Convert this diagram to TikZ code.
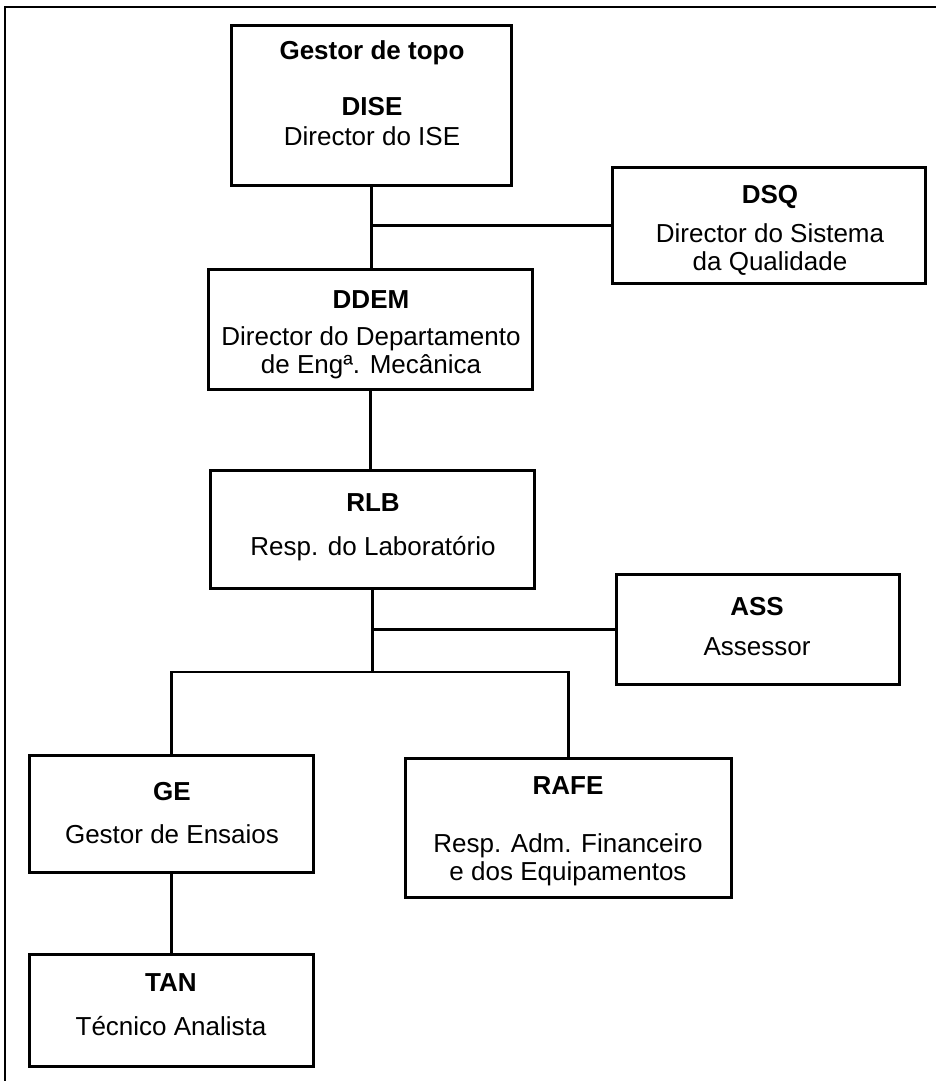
\documentclass[tikz,border=0pt]{standalone}
\usepackage{fontspec}
\setmainfont{Liberation Sans}

\begin{document}
\begin{tikzpicture}[x=1pt,y=-1pt]

      \useasboundingbox (0,0) rectangle (936,1081);
      \draw[line width=1.5pt] (5,1081) -- (5,7) -- (936,7);

      \begin{scope}[every node/.style={draw,line width=3pt,inner sep=0pt}]
        \node[minimum width=280pt,minimum height=160pt] (dise) at (371.5,105.5) {};
        \node[minimum width=313pt,minimum height=116pt] (dsq)  at (769,225.5) {};
        \node[minimum width=324pt,minimum height=120pt] (ddem) at (370.5,329.5) {};
        \node[minimum width=324pt,minimum height=118pt] (rlb)  at (372.5,529.5) {};
        \node[minimum width=283pt,minimum height=110pt] (ass)  at (758,629.5) {};
        \node[minimum width=284pt,minimum height=117pt] (ge)   at (171.5,814) {};
        \node[minimum width=326pt,minimum height=139pt] (rafe) at (568.5,828) {};
        \node[minimum width=284pt,minimum height=112pt] (tan)  at (171.5,1010.5) {};
      \end{scope}

      \begin{scope}[every node/.style={anchor=north,align=center,inner sep=0pt,
          font=\fontsize{26}{28}\selectfont}]
        \node (dise-text) at (372,40) {\textbf{Gestor de topo}\\[28pt]\textbf{DISE}\\[2pt]Director do ISE};
        \node (dsq-text)  at (770,185) {\textbf{DSQ}\\[11pt]Director do Sistema\\da Qualidade};
        \node (ddem-text) at (371,290) {\textbf{DDEM}\\[9pt]Director do Departamento\\de Engª. Mecânica};
        \node (rlb-text)  at (373,493) {\textbf{RLB}\\[16pt]Resp. do Laboratório};
        \node (ass-text)  at (757,597) {\textbf{ASS}\\[12pt]Assessor};
        \node (ge-text)   at (172,782) {\textbf{GE}\\[15pt]Gestor de Ensaios};
        \node (rafe-text) at (568,776) {\textbf{RAFE}\\[30pt]Resp. Adm. Financeiro\\e dos Equipamentos};
        \node (tan-text)  at (171,973) {\textbf{TAN}\\[16pt]Técnico Analista};
      \end{scope}

      \begin{scope}[line width=2.5pt]
        \coordinate (top-join) at (dise.south |- dsq.west);
        \coordinate (bar) at (372.5,672);

        \draw (dise.south) -- (dise.south |- ddem.north);
        \draw (top-join) -- (dsq.west);
        \draw (ddem.south) -- (ddem.south |- rlb.north);
        \draw (rlb.south) -- (bar);
        \draw (rlb.south |- ass.west) -- (ass.west);
        \draw (ge.north) -- (ge.north |- bar) -- (rafe.north |- bar) -- (rafe.north);
        \draw (ge.south) -- (tan.north);
      \end{scope}

    \end{tikzpicture}
\end{document}
